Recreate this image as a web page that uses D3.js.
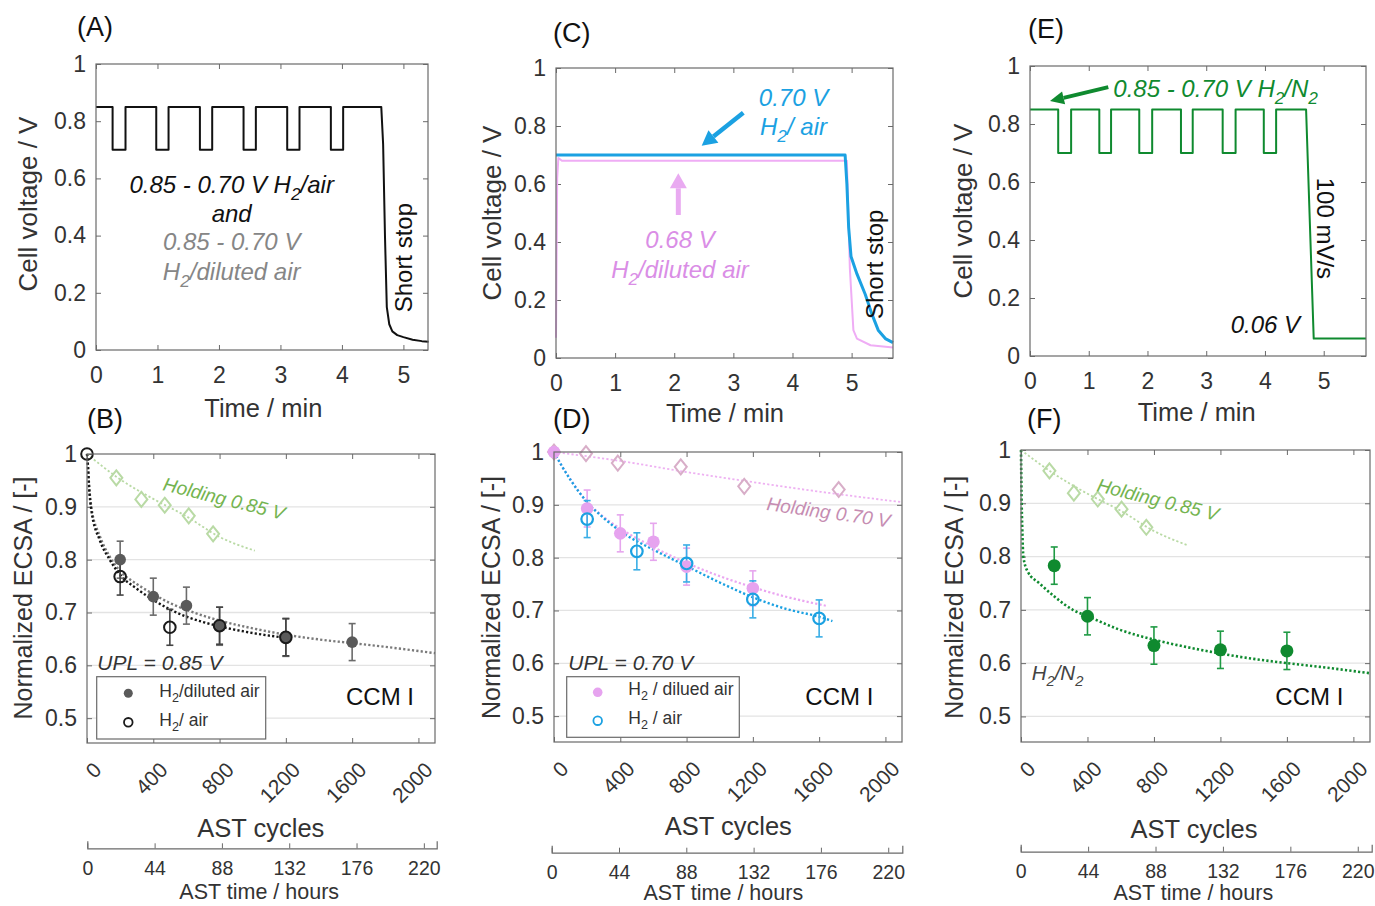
<!DOCTYPE html>
<html>
<head>
<meta charset="utf-8">
<script src="https://cdn.jsdelivr.net/npm/d3@7"></script>
<style>
  html, body { margin: 0; padding: 0; background: #fff; }
  svg { display: block; font-family: "Liberation Sans", Arial, Helvetica, sans-serif; }
</style>
</head>
<body>
<svg id="fig" width="1375" height="906"></svg>
<script>
// ---------------- tick values ----------------
const timeTicks  = [0, 1, 2, 3, 4, 5];
const voltTicks  = [0, 0.2, 0.4, 0.6, 0.8, 1];
const cycleTicks = [0, 400, 800, 1200, 1600, 2000];
const hourTicks  = [0, 44, 88, 132, 176, 220];
const ecsaTicks  = [0.5, 0.6, 0.7, 0.8, 0.9, 1];
const ecsaGrid   = [0.5, 0.6, 0.7, 0.8, 0.9];

// ---------------- (A) 0.85/0.70 V square wave, short stop ----------------
const timeA = [0, 0.27, 0.27, 0.48, 0.48, 0.98, 0.98, 1.18, 1.18, 1.69, 1.69, 1.89, 1.89,
               2.40, 2.40, 2.60, 2.60, 3.11, 3.11, 3.31, 3.31, 3.82, 3.82, 4.02, 4.02,
               4.64, 4.67, 4.70, 4.73, 4.77, 4.82, 4.90, 5.00, 5.15, 5.30, 5.41];
const voltA = [0.85, 0.85, 0.70, 0.70, 0.85, 0.85, 0.70, 0.70, 0.85, 0.85, 0.70, 0.70, 0.85,
               0.85, 0.70, 0.70, 0.85, 0.85, 0.70, 0.70, 0.85, 0.85, 0.70, 0.70, 0.85,
               0.85, 0.72, 0.40, 0.15, 0.09, 0.065, 0.052, 0.045, 0.036, 0.031, 0.029];

// ---------------- (C) constant-voltage holds, short stop ----------------
const timeC_air = [0, 4.89, 4.92, 4.95, 4.99, 5.09, 5.23, 5.34, 5.45, 5.57, 5.70];
const voltC_air = [0.70, 0.70, 0.60, 0.45, 0.35, 0.29, 0.22, 0.153, 0.096, 0.067, 0.053];
const timeC_dil = [0, 0.01, 0.02, 0.04, 0.10, 4.92, 4.97, 5.03, 5.09, 5.32, 5.70];
const voltC_dil = [0.07, 0.35, 0.62, 0.69, 0.68, 0.68, 0.31, 0.096, 0.067, 0.044, 0.036];

// ---------------- (E) H2/N2 square wave, 100 mV/s ramp to 0.06 V ----------------
const timeE = [0, 0.48, 0.48, 0.70, 0.70, 1.18, 1.18, 1.38, 1.38, 1.86, 1.86, 2.08, 2.08,
               2.57, 2.57, 2.77, 2.77, 3.28, 3.28, 3.50, 3.50, 3.98, 3.98, 4.19, 4.19,
               4.70, 4.83, 5.72];
const voltE = [0.85, 0.85, 0.70, 0.70, 0.85, 0.85, 0.70, 0.70, 0.85, 0.85, 0.70, 0.70, 0.85,
               0.85, 0.70, 0.70, 0.85, 0.85, 0.70, 0.70, 0.85, 0.85, 0.70, 0.70, 0.85,
               0.85, 0.06, 0.06];

// ---------------- (B) ECSA, UPL 0.85 V ----------------
const cyclesB_dil = [200, 400, 600, 800, 1200, 1600];
const ecsaB_dil   = [0.800, 0.730, 0.713, 0.674, 0.653, 0.644];
const errB_dil    = [0.035, 0.035, 0.035, 0.036, 0.036, 0.035];
const cyclesB_air = [0, 200, 500, 800, 1200];
const ecsaB_air   = [1.000, 0.768, 0.672, 0.675, 0.653];
const errB_air    = [0, 0.035, 0.034, 0.035, 0.035];
const fitCyclesB_air = [0, 6, 12, 26, 77, 137, 201, 300, 399, 500, 600, 700, 797, 1003, 1200];
const fitEcsaB_air   = [1.0, 0.976, 0.94, 0.894, 0.837, 0.800, 0.771, 0.745, 0.724, 0.706, 0.692, 0.682, 0.674, 0.661, 0.652];
const fitCyclesB_dil = [0, 6, 12, 26, 77, 137, 201, 300, 399, 500, 600, 797, 1000, 1200, 1400, 1601, 1800, 2100];
const fitEcsaB_dil   = [1.0, 0.978, 0.945, 0.90, 0.845, 0.806, 0.778, 0.754, 0.735, 0.718, 0.705, 0.685, 0.670, 0.658, 0.649, 0.642, 0.635, 0.623];
const holdCyclesB = [177, 328, 469, 614, 761];
const holdEcsaB   = [0.955, 0.914, 0.903, 0.883, 0.849];
const holdFitCyclesB = [0, 200, 400, 600, 800, 1013];
const holdFitEcsaB   = [1.0, 0.952, 0.915, 0.882, 0.843, 0.817];

// ---------------- (D) ECSA, UPL 0.70 V ----------------
const cyclesD_dil = [0, 200, 400, 600, 800, 1200];
const ecsaD_dil   = [1.000, 0.893, 0.846, 0.830, 0.783, 0.742];
const errD_dil    = [0, 0.035, 0.035, 0.035, 0.035, 0.033];
const cyclesD_air = [200, 500, 800, 1200, 1600];
const ecsaD_air   = [0.873, 0.812, 0.789, 0.721, 0.685];
const errD_air    = [0.035, 0.035, 0.035, 0.035, 0.035];
const fitCyclesD_air = [0, 50, 100, 200, 300, 400, 600, 800, 1000, 1200, 1400, 1600, 1680];
const fitEcsaD_air   = [1.0, 0.972, 0.947, 0.905, 0.875, 0.850, 0.815, 0.784, 0.753, 0.725, 0.703, 0.688, 0.680];
const fitCyclesD_dil = [0, 50, 100, 200, 300, 400, 600, 800, 1000, 1200, 1400, 1640];
const fitEcsaD_dil   = [1.0, 0.972, 0.948, 0.905, 0.877, 0.855, 0.820, 0.790, 0.765, 0.744, 0.726, 0.709];
const holdCyclesD = [0, 193, 385, 765, 1148, 1718];
const holdEcsaD   = [1.000, 0.997, 0.979, 0.972, 0.935, 0.929];
const holdFitCyclesD = [0, 400, 800, 1200, 1600, 2100];
const holdFitEcsaD   = [1.0, 0.983, 0.962, 0.943, 0.925, 0.905];

// ---------------- (F) ECSA, H2/N2 ----------------
const cyclesF = [200, 400, 800, 1200, 1600];
const ecsaF   = [0.783, 0.688, 0.633, 0.625, 0.623];
const errF    = [0.035, 0.035, 0.035, 0.035, 0.035];
const fitCyclesF = [0, 3, 8, 14, 40, 110, 201, 312, 402, 600, 800, 1000, 1200, 1400, 1600, 1800, 2100];
const fitEcsaF   = [1.0, 0.92, 0.85, 0.80, 0.772, 0.75, 0.725, 0.70, 0.688, 0.662, 0.644, 0.630, 0.618, 0.608, 0.600, 0.593, 0.581];
const holdCyclesF = [171, 318, 462, 605, 754];
const holdEcsaF   = [0.961, 0.919, 0.908, 0.889, 0.855];
const holdFitCyclesF = [0, 200, 400, 600, 800, 1005];
const holdFitEcsaF   = [1.0, 0.955, 0.918, 0.886, 0.848, 0.821];

// ---------------- styling ----------------
const AX = "#6a6a6a", TXT = "#333";
const BLUE = "#1ba1e2", PINK_LINE = "#efadf5", PINK_PT = "#e6a3ef", PINK_TXT = "#da8ee6";
const GREEN = "#0f8a2f", PALE_GREEN = "#b9daa5", HOLD_GREEN = "#74b450";
const MAUVE = "#d8aec8", MAUVE_TXT = "#c68db2";
const GRAY_PT = "#5a5a5a", GRAY_TXT = "#868686";
const TICK_FS = 23, TITLE_FS = 25.5, NOTE_FS = 24;

const svg = d3.select("#fig");

function makePanel(box, xDom, yDom) {
  const x = d3.scaleLinear().domain(xDom).range([box.l, box.r]);
  const y = d3.scaleLinear().domain(yDom).range([box.b, box.t]);
  const g = svg.append("g");
  return { x, y, g, box };
}

function styleAxis(sel, fs) {
  sel.select(".domain").remove();
  sel.selectAll(".tick line").attr("stroke", AX).attr("stroke-width", 1);
  sel.selectAll("text").attr("fill", TXT).attr("font-size", fs)
     .attr("font-family", '"Liberation Sans", Arial, sans-serif');
}

// MATLAB-like labels: integers plain, fractions with one decimal
const fmtNum = d => Number.isInteger(d) ? String(d) : d3.format(".1f")(d);

function drawFrame(p, opts) {
  const { g, x, y, box } = p;
  if (opts.grid) {
    g.append("g").selectAll("line").data(opts.grid).join("line")
      .attr("x1", box.l).attr("x2", box.r)
      .attr("y1", d => y(d)).attr("y2", d => y(d))
      .attr("stroke", "#e3e3e3").attr("stroke-width", 1.3);
  }
  g.append("g").attr("transform", `translate(${box.l},0)`)
    .call(d3.axisLeft(y).tickValues(opts.yTicks).tickSizeInner(-5).tickSizeOuter(0)
      .tickPadding(10).tickFormat(fmtNum))
    .call(s => styleAxis(s, TICK_FS));
  g.append("g").attr("transform", `translate(${box.r},0)`)
    .call(d3.axisRight(y).tickValues(opts.yTicks).tickSizeInner(-5).tickSizeOuter(0).tickFormat(() => ""))
    .call(s => styleAxis(s, TICK_FS));
  g.append("g").attr("transform", `translate(0,${box.t})`)
    .call(d3.axisTop(x).tickValues(opts.xTicks).tickSizeInner(-5).tickSizeOuter(0).tickFormat(() => ""))
    .call(s => styleAxis(s, TICK_FS));
  const bottom = g.append("g").attr("transform", `translate(0,${box.b})`)
    .call(d3.axisBottom(x).tickValues(opts.xTicks).tickSizeInner(-5).tickSizeOuter(0)
      .tickPadding(17).tickFormat(fmtNum))
    .call(s => styleAxis(s, opts.rotateX ? 21 : TICK_FS));
  if (opts.rotateX) {
    bottom.selectAll("text")
      .attr("x", 0).attr("y", 0).attr("dy", "0.35em")
      .attr("text-anchor", "end")
      .attr("transform", "translate(10,23) rotate(-45)");
  }
}

function drawBox(p) {
  const { g, box } = p;
  g.append("rect").attr("x", box.l).attr("y", box.t)
    .attr("width", box.r - box.l).attr("height", box.b - box.t)
    .attr("fill", "none").attr("stroke", AX).attr("stroke-width", 1.2);
}

function drawLine(p, xs, ys, style) {
  const line = d3.line().x(d => p.x(d[0])).y(d => p.y(d[1]));
  if (style.curve) line.curve(style.curve);
  p.g.append("path").datum(d3.zip(xs, ys)).attr("d", line)
    .attr("fill", "none").attr("stroke", style.color)
    .attr("stroke-width", style.width || 2)
    .attr("stroke-dasharray", style.dash || null)
    .attr("stroke-linejoin", "round");
}

function drawErrorBars(p, xs, ys, es, color) {
  const data = d3.zip(xs, ys, es).filter(d => d[2] > 0);
  const g = p.g.append("g").attr("stroke", color).attr("stroke-width", 1.6);
  g.selectAll("line.v").data(data).join("line").attr("class", "v")
    .attr("x1", d => p.x(d[0])).attr("x2", d => p.x(d[0]))
    .attr("y1", d => p.y(d[1] - d[2])).attr("y2", d => p.y(d[1] + d[2]));
  [-1, 1].forEach(s => {
    g.selectAll(null).data(data).join("line")
      .attr("x1", d => p.x(d[0]) - 3.5).attr("x2", d => p.x(d[0]) + 3.5)
      .attr("y1", d => p.y(d[1] + s * d[2])).attr("y2", d => p.y(d[1] + s * d[2]));
  });
}

function drawDots(p, xs, ys, style) {
  p.g.append("g").selectAll("circle").data(d3.zip(xs, ys)).join("circle")
    .attr("cx", d => p.x(d[0])).attr("cy", d => p.y(d[1])).attr("r", style.r)
    .attr("fill", style.fill || "none")
    .attr("stroke", style.stroke || "none")
    .attr("stroke-width", style.sw || 0);
}

function drawDiamonds(p, xs, ys, color) {
  p.g.append("g").selectAll("path").data(d3.zip(xs, ys)).join("path")
    .attr("transform", d => `translate(${p.x(d[0])},${p.y(d[1])})`)
    .attr("d", "M0,-7.5L6,0L0,7.5L-6,0Z")
    .attr("fill", "none").attr("stroke", color).attr("stroke-width", 2);
}

// text with subscript parts: strings are normal runs, {sub:"2"} are subscripts
function rich(parent, x, y, parts, size, attrs) {
  const t = parent.append("text").attr("x", x).attr("y", y).attr("font-size", size);
  Object.entries(attrs || {}).forEach(([k, v]) => t.attr(k, v));
  let shift = 0;
  parts.forEach(part => {
    const isSub = typeof part === "object";
    const ts = t.append("tspan").text(isSub ? part.sub : part);
    const want = isSub ? size * 0.3 : 0;
    if (want !== shift) { ts.attr("dy", want - shift); shift = want; }
    if (isSub) ts.attr("font-size", size * 0.72);
  });
  return t;
}

function arrow(g, x1, y1, x2, y2, color, width, headLen, headW) {
  const a = Math.atan2(y2 - y1, x2 - x1);
  const bx = x2 - headLen * Math.cos(a), by = y2 - headLen * Math.sin(a);
  g.append("line").attr("x1", x1).attr("y1", y1).attr("x2", bx).attr("y2", by)
    .attr("stroke", color).attr("stroke-width", width);
  const px = -Math.sin(a) * headW / 2, py = Math.cos(a) * headW / 2;
  g.append("path").attr("d", `M${x2},${y2}L${bx + px},${by + py}L${bx - px},${by - py}Z`).attr("fill", color);
}

function panelLabel(txt, x, y) {
  svg.append("text").attr("x", x).attr("y", y).attr("font-size", 27).attr("fill", "#111").text(txt);
}

function yTitle(txt, x, y, fs) {
  svg.append("text").attr("transform", `translate(${x},${y}) rotate(-90)`)
    .attr("text-anchor", "middle").attr("font-size", fs).attr("fill", TXT).text(txt);
}

function xTitle(txt, x, y, fs) {
  svg.append("text").attr("x", x).attr("y", y).attr("text-anchor", "middle")
    .attr("font-size", fs).attr("fill", TXT).text(txt);
}

function hoursAxis(cfg) {
  const h = d3.scaleLinear().domain([0, cfg.end]).range([cfg.x0, cfg.x1]);
  svg.append("g").attr("transform", `translate(0,${cfg.y})`)
    .call(d3.axisBottom(h).tickValues(hourTicks).tickSizeInner(-5).tickSizeOuter(-7).tickPadding(12.5))
    .call(s => {
      s.select(".domain").attr("stroke", AX).attr("stroke-width", 1.2);
      s.selectAll(".tick line").attr("stroke", AX);
      s.selectAll("text").attr("fill", TXT).attr("font-size", 19.5);
    });
}

// =============== top row: voltage protocols ===============
const topOpts = { xTicks: timeTicks, yTicks: voltTicks };

// (A)
const pA = makePanel({ l: 96, t: 64, r: 428, b: 350 }, [0, 5.4], [0, 1]);
drawFrame(pA, topOpts);
drawLine(pA, timeA, voltA, { color: "#111", width: 2 });
drawBox(pA);
rich(pA.g, pA.x(2.207), pA.y(0.548), ["0.85 - 0.70 V H", { sub: "2" }, "/air"], NOTE_FS,
  { "text-anchor": "middle", "font-style": "italic", fill: "#111" });
rich(pA.g, pA.x(2.207), pA.y(0.449), ["and"], NOTE_FS,
  { "text-anchor": "middle", "font-style": "italic", fill: "#111" });
rich(pA.g, pA.x(2.207), pA.y(0.35), ["0.85 - 0.70 V"], NOTE_FS,
  { "text-anchor": "middle", "font-style": "italic", fill: GRAY_TXT });
rich(pA.g, pA.x(2.207), pA.y(0.245), ["H", { sub: "2" }, "/diluted air"], NOTE_FS,
  { "text-anchor": "middle", "font-style": "italic", fill: GRAY_TXT });
pA.g.append("text").attr("transform", `translate(${pA.x(5.14)},${pA.y(0.323)}) rotate(-90)`)
  .attr("text-anchor", "middle").attr("font-size", NOTE_FS).attr("fill", "#111").text("Short stop");

// (C)
const pC = makePanel({ l: 556, t: 68, r: 893, b: 358 }, [0, 5.7], [0, 1]);
drawFrame(pC, topOpts);
drawLine(pC, timeC_dil, voltC_dil, { color: PINK_LINE, width: 2 });
drawLine(pC, timeC_air, voltC_air, { color: BLUE, width: 3 });
drawBox(pC);
rich(pC.g, pC.x(4.017), pC.y(0.869), ["0.70 V"], NOTE_FS,
  { "text-anchor": "middle", "font-style": "italic", fill: BLUE });
rich(pC.g, pC.x(4.017), pC.y(0.769), ["H", { sub: "2" }, "/ air"], NOTE_FS,
  { "text-anchor": "middle", "font-style": "italic", fill: BLUE });
rich(pC.g, pC.x(2.097), pC.y(0.378), ["0.68 V"], NOTE_FS,
  { "text-anchor": "middle", "font-style": "italic", fill: PINK_TXT });
rich(pC.g, pC.x(2.097), pC.y(0.275), ["H", { sub: "2" }, "/diluted air"], NOTE_FS,
  { "text-anchor": "middle", "font-style": "italic", fill: PINK_TXT });
arrow(pC.g, pC.x(3.168), pC.y(0.846), pC.x(2.464), pC.y(0.732), BLUE, 4.5, 15, 16);
arrow(pC.g, pC.x(2.069), pC.y(0.493), pC.x(2.069), pC.y(0.637), "#e9aaf1", 5, 15, 17);
pC.g.append("text").attr("transform", `translate(${pC.x(5.536)},${pC.y(0.323)}) rotate(-90)`)
  .attr("text-anchor", "middle").attr("font-size", NOTE_FS).attr("fill", "#111").text("Short stop");

// (E)
const pE = makePanel({ l: 1030, t: 66, r: 1366, b: 356 }, [0, 5.72], [0, 1]);
drawFrame(pE, topOpts);
drawLine(pE, timeE, voltE, { color: GREEN, width: 2 });
drawBox(pE);
arrow(pE.g, pE.x(1.333), pE.y(0.927), pE.x(0.34), pE.y(0.879), GREEN, 4, 14, 13);
rich(pE.g, pE.x(1.418), pE.y(0.894), ["0.85 - 0.70 V H", { sub: "2" }, "/N", { sub: "2" }], NOTE_FS,
  { "font-style": "italic", fill: GREEN });
pE.g.append("text").attr("transform", `translate(${pE.x(4.881)},${pE.y(0.44)}) rotate(90)`)
  .attr("text-anchor", "middle").attr("font-size", NOTE_FS).attr("fill", "#111").text("100 mV/s");
rich(pE.g, pE.x(4.597), pE.y(0.078), ["0.06 V"], NOTE_FS,
  { "text-anchor": "end", "font-style": "italic", fill: "#111" });

// =============== bottom row: normalized ECSA ===============
const botOpts = { xTicks: cycleTicks, yTicks: ecsaTicks, grid: ecsaGrid, rotateX: true };
const dotted = "2.2,2.2";

// (B)
const pB = makePanel({ l: 87, t: 454, r: 435, b: 743 }, [0, 2100], [0.453, 1]);
drawFrame(pB, botOpts);
drawLine(pB, holdFitCyclesB, holdFitEcsaB, { color: PALE_GREEN, width: 1.8, dash: dotted, curve: d3.curveMonotoneX });
drawDiamonds(pB, holdCyclesB, holdEcsaB, PALE_GREEN);
drawLine(pB, fitCyclesB_dil, fitEcsaB_dil, { color: "#7a7a7a", width: 2.4, dash: dotted, curve: d3.curveMonotoneX });
drawLine(pB, fitCyclesB_air, fitEcsaB_air, { color: "#151515", width: 2.4, dash: dotted, curve: d3.curveMonotoneX });
drawErrorBars(pB, cyclesB_dil, ecsaB_dil, errB_dil, "#6b6b6b");
drawErrorBars(pB, cyclesB_air, ecsaB_air, errB_air, "#444");
drawDots(pB, cyclesB_dil, ecsaB_dil, { r: 5.8, fill: GRAY_PT });
drawDots(pB, cyclesB_air, ecsaB_air, { r: 5.8, stroke: "#1a1a1a", sw: 2 });
drawBox(pB);
pB.g.append("text").attr("transform", `translate(${pB.x(453)},${pB.y(0.932)}) rotate(14)`)
  .attr("font-size", 19).attr("font-style", "italic").attr("fill", HOLD_GREEN).text("Holding 0.85 V");
rich(pB.g, pB.x(62), pB.y(0.591), ["UPL = 0.85 V"], 21, { "font-style": "italic", fill: TXT });
rich(pB.g, pB.x(1768), pB.y(0.525), ["CCM I"], 24, { "text-anchor": "middle", fill: "#111" });
// legend
pB.g.append("rect").attr("x", 96.7).attr("y", 676.7).attr("width", 169).attr("height", 62.3)
  .attr("fill", "#fff").attr("stroke", AX).attr("stroke-width", 1.2);
pB.g.append("circle").attr("cx", 128.3).attr("cy", 693.3).attr("r", 4.5).attr("fill", GRAY_PT);
pB.g.append("circle").attr("cx", 128.3).attr("cy", 722.3).attr("r", 4.3).attr("fill", "none")
  .attr("stroke", "#1a1a1a").attr("stroke-width", 1.8);
rich(pB.g, 159.3, 697, ["H", { sub: "2" }, "/diluted air"], 17.5, { fill: TXT });
rich(pB.g, 159.3, 726, ["H", { sub: "2" }, "/ air"], 17.5, { fill: TXT });

// (D)
const pD = makePanel({ l: 554, t: 452, r: 902, b: 742 }, [0, 2100], [0.451, 1]);
drawFrame(pD, botOpts);
drawLine(pD, holdFitCyclesD, holdFitEcsaD, { color: "#eeb1f2", width: 1.8, dash: dotted, curve: d3.curveMonotoneX });
drawDiamonds(pD, holdCyclesD, holdEcsaD, MAUVE);
drawLine(pD, fitCyclesD_dil, fitEcsaD_dil, { color: "#eaa6f1", width: 2.2, dash: dotted, curve: d3.curveMonotoneX });
drawLine(pD, fitCyclesD_air, fitEcsaD_air, { color: BLUE, width: 2.4, dash: dotted, curve: d3.curveMonotoneX });
drawErrorBars(pD, cyclesD_dil, ecsaD_dil, errD_dil, "#e6a6ee");
drawErrorBars(pD, cyclesD_air, ecsaD_air, errD_air, "#3aaee6");
drawDots(pD, cyclesD_dil, ecsaD_dil, { r: 6.3, fill: PINK_PT });
drawDots(pD, cyclesD_air, ecsaD_air, { r: 5.8, stroke: BLUE, sw: 2.2 });
drawBox(pD);
pD.g.append("text").attr("transform", `translate(${pD.x(1279)},${pD.y(0.890)}) rotate(8)`)
  .attr("font-size", 19).attr("font-style", "italic").attr("fill", MAUVE_TXT).text("Holding 0.70 V");
rich(pD.g, pD.x(86), pD.y(0.587), ["UPL = 0.70 V"], 21, { "font-style": "italic", fill: TXT });
rich(pD.g, pD.x(1722), pD.y(0.521), ["CCM I"], 24, { "text-anchor": "middle", fill: "#111" });
pD.g.append("rect").attr("x", 566.7).attr("y", 676.7).attr("width", 172.6).attr("height", 60.6)
  .attr("fill", "#fff").attr("stroke", AX).attr("stroke-width", 1.2);
pD.g.append("circle").attr("cx", 597.7).attr("cy", 692.3).attr("r", 4.8).attr("fill", PINK_PT);
pD.g.append("circle").attr("cx", 597.7).attr("cy", 720.7).attr("r", 4.3).attr("fill", "none")
  .attr("stroke", BLUE).attr("stroke-width", 1.8);
rich(pD.g, 628.3, 695, ["H", { sub: "2" }, " / dilued air"], 17.5, { fill: TXT });
rich(pD.g, 628.3, 724, ["H", { sub: "2" }, " / air"], 17.5, { fill: TXT });

// (F)
const pF = makePanel({ l: 1021, t: 450, r: 1370, b: 742 }, [0, 2100], [0.452, 1]);
drawFrame(pF, botOpts);
drawLine(pF, holdFitCyclesF, holdFitEcsaF, { color: PALE_GREEN, width: 1.8, dash: dotted, curve: d3.curveMonotoneX });
drawDiamonds(pF, holdCyclesF, holdEcsaF, PALE_GREEN);
drawLine(pF, fitCyclesF, fitEcsaF, { color: GREEN, width: 2.6, dash: dotted, curve: d3.curveMonotoneX });
drawErrorBars(pF, cyclesF, ecsaF, errF, "#1f9a44");
drawDots(pF, cyclesF, ecsaF, { r: 6.5, fill: GREEN });
drawBox(pF);
pF.g.append("text").attr("transform", `translate(${pF.x(451)},${pF.y(0.923)}) rotate(14)`)
  .attr("font-size", 19).attr("font-style", "italic").attr("fill", HOLD_GREEN).text("Holding 0.85 V");
rich(pF.g, pF.x(64), pF.y(0.568), ["H", { sub: "2" }, "/N", { sub: "2" }], 20.5, { "font-style": "italic", fill: "#444" });
rich(pF.g, pF.x(1735), pF.y(0.521), ["CCM I"], 24, { "text-anchor": "middle", fill: "#111" });

// secondary time axes under the cycle axes
hoursAxis({ y: 848.3, x0: 87.3, x1: 436.7, end: 228.4 });
hoursAxis({ y: 852.7, x0: 551.7, x1: 902.3, end: 229.2 });
hoursAxis({ y: 851.7, x0: 1020.7, x1: 1371.7, end: 229.1 });

// ---------------- titles and panel letters ----------------
panelLabel("(A)", 77, 36);
panelLabel("(C)", 553, 42);
panelLabel("(E)", 1028, 38);
panelLabel("(B)", 87, 428);
panelLabel("(D)", 553, 428);
panelLabel("(F)", 1027, 428);

yTitle("Cell voltage / V", 36.5, 204, 26);
yTitle("Cell voltage / V", 500.5, 213, 26);
yTitle("Cell voltage / V", 971.5, 211, 26);
yTitle("Normalized ECSA / [-]", 31.7, 598, 25);
yTitle("Normalized ECSA / [-]", 500, 597.5, 25);
yTitle("Normalized ECSA / [-]", 963.3, 597.3, 25);

xTitle("Time / min", 263.3, 417, TITLE_FS);
xTitle("Time / min", 725, 422, TITLE_FS);
xTitle("Time / min", 1196.7, 421, TITLE_FS);
xTitle("AST cycles", 260.8, 836.7, TITLE_FS);
xTitle("AST cycles", 728.3, 835, TITLE_FS);
xTitle("AST cycles", 1194, 838, TITLE_FS);
xTitle("AST time / hours", 259.2, 899, 21.5);
xTitle("AST time / hours", 723.3, 900, 21.5);
xTitle("AST time / hours", 1193.3, 900, 21.5);
</script>
</body>
</html>
